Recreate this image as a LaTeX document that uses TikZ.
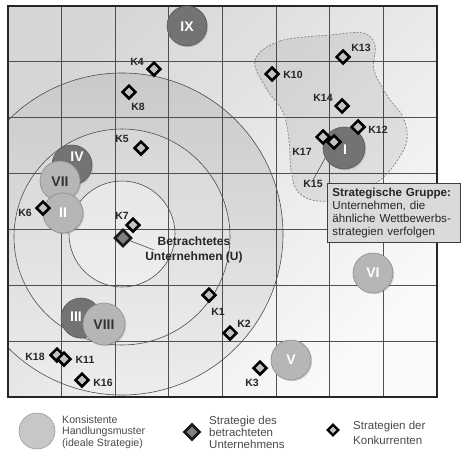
\documentclass[tikz,border=0pt]{standalone}
\usepackage{fontspec}
\setmainfont{Liberation Sans}
\usetikzlibrary{shapes.geometric,shadows}
\definecolor{darkc}{HTML}{737373}
\definecolor{lightc}{HTML}{B6B6B6}
\definecolor{gridc}{HTML}{505050}
\definecolor{kfill}{HTML}{C2C2C2}
\definecolor{ufill}{HTML}{808080}
\definecolor{legtext}{HTML}{4A4A4A}
\definecolor{boxfill}{HTML}{DADADA}
\begin{document}
\begin{tikzpicture}[x=1pt,y=-1pt,
  strat/.style={circle, minimum size=40pt, inner sep=0pt, line width=0.6pt,
    drop shadow={shadow xshift=1.2pt, shadow yshift=-1.2pt, opacity=0.3}},
  darkcirc/.style={strat, fill=darkc, draw=black!65},
  lightcirc/.style={strat, fill=lightc, draw=black!45},
  numw/.style={font=\fontsize{14}{14}\selectfont\bfseries, text=white, inner sep=0pt},
  numd/.style={numw, text=black!80},
  kd/.style={diamond, aspect=1, draw=black, line width=2.5pt, fill=kfill,
    minimum size=14pt, inner sep=0pt},
  ud/.style={diamond, aspect=1, draw=black!90, line width=2.6pt, fill=ufill,
    minimum size=17pt, inner sep=0pt},
  klab/.style={font=\fontsize{10.5}{12}\selectfont\bfseries, text=black!85, inner sep=0pt},
  ulab/.style={font=\fontsize{12}{15}\selectfont\bfseries, text=black!85, align=center, inner sep=0pt},
  gbox/.style={fill=boxfill, draw=black!75, line width=0.9pt, align=left,
    font=\fontsize{11.6}{13}\selectfont, text=black!85, inner xsep=5pt, inner ysep=2pt,
    minimum width=133pt, minimum height=59pt, text width=123pt},
  legt/.style={font=\fontsize{10.6}{11.7}\selectfont, text=legtext, align=left, inner sep=0pt},
  ringline/.style={draw=black!70, line width=0.6pt},
  gridline/.style={draw=gridc, line width=0.8pt},
  conn/.style={draw=black!70, line width=0.6pt}
]
\useasboundingbox (0,0) rectangle (461,450);
\fill[white] (0,0) rectangle (461,450);
% background of the matrix
\shade[top color=black!16, bottom color=black!2, shading angle=45] (8,6) rectangle (437,397);
% concentric circles
\begin{scope}
  \clip (8,6) rectangle (437,397);
  \shade[top color=black!21, bottom color=black!7] (122,234) circle[radius=161];
  \fill[white, opacity=0.15] (122,237) circle[radius=108];
  \fill[white, opacity=0.35] (122,234) circle[radius=53];
  \draw[ringline] (122,234) circle[radius=161];
  \draw[ringline] (122,237) circle[radius=108];
  \draw[ringline] (122,234) circle[radius=53];
\end{scope}
% grid
\foreach \i in {1,...,7} \draw[gridline] ({8+53.625*\i},6) -- ({8+53.625*\i},397);
\foreach \j in {1,...,6} \draw[gridline] (8,{6+55.857*\j}) -- (437,{6+55.857*\j});
% strategic group region
\draw[dash pattern=on 2pt off 1.5pt, draw=black!45, line width=0.8pt, fill=black, fill opacity=0.07]
  plot[smooth cycle, tension=0.6] coordinates {(255,60) (280,41) (330,35) (363,33) (375,45) (374,70) (388,97) (403,117) (407,140) (397,161) (380,180) (350,197) (318,201) (298,192) (291,170) (289,140) (283,112) (266,88)};
% frame
\draw[line width=1.5pt, black!85] (8,6) rectangle (437,397);
% connector K15 (behind circle I)
\node[klab] (lK15) at (313,184) {K15};
\coordinate (K15c) at (334,142);
\draw[conn] (lK15.north) -- (K15c);
% strategy circles
\node[darkcirc] (IX) at (187,26) {};
\node[darkcirc] (IV) at (72,165) {};
\node[lightcirc] (VII) at (60,181) {};
\node[lightcirc] (II) at (63,213) {};
\node[darkcirc] (III) at (81,318) {};
\node[lightcirc, minimum size=42pt] (VIII) at (104,324) {};
\node[darkcirc, minimum size=42pt] (I) at (344,148) {};
\node[lightcirc] (VI) at (373,273) {};
\node[lightcirc] (V) at (291,360) {};
\node[numw] (tIX) at (187,27) {IX};
\node[numw] (tIV) at (77,157) {IV};
\node[numd] (tVII) at (60,182) {VII};
\node[numw] (tII) at (63,213) {II};
\node[numw] (tIII) at (76,317) {III};
\node[numd] (tVIII) at (104,325) {VIII};
\node[numw] (tI) at (345,150) {I};
\node[numw] (tVI) at (373,273) {VI};
\node[numw] (tV) at (291,360) {V};
% competitors
\node[kd] (K4) at (154,69) {};
\node[kd] (K8) at (129,92) {};
\node[kd] (K5) at (141,148) {};
\node[kd] (K10) at (272,74) {};
\node[kd] (K13) at (343,57) {};
\node[kd] (K14) at (342,106) {};
\node[kd] (K12) at (358,127) {};
\node[kd] (K17) at (323,137) {};
\node[kd] (K15) at (K15c) {};
\node[kd] (K6) at (43,208) {};
\node[kd] (K7) at (133,225) {};
\node[kd] (K1) at (209,295) {};
\node[kd] (K2) at (230,333) {};
\node[kd] (K3) at (260,368) {};
\node[kd] (K18) at (57,355) {};
\node[kd] (K11) at (64,359) {};
\node[kd] (K16) at (82,380) {};
% company under consideration
\coordinate (Uend) at (154,250);
\draw[conn] (123,238) -- (Uend);
\node[ud] (U) at (123,238) {};
\node[ulab] (Ulab) at (194,250) {Betrachtetes\\Unternehmen (U)};
% labels
\node[klab] (lK4) at (137,62) {K4};
\node[klab] (lK8) at (138,107) {K8};
\node[klab] (lK5) at (122,139) {K5};
\node[klab] (lK10) at (293,75) {K10};
\node[klab] (lK13) at (361,48) {K13};
\node[klab] (lK14) at (323,98) {K14};
\node[klab] (lK12) at (378,130) {K12};
\node[klab] (lK17) at (302,152) {K17};
\node[klab] (lK6) at (25,213) {K6};
\node[klab] (lK7) at (122,216) {K7};
\node[klab] (lK1) at (218,312) {K1};
\node[klab] (lK2) at (244,324) {K2};
\node[klab] (lK3) at (252,383) {K3};
\node[klab] (lK18) at (35,357) {K18};
\node[klab] (lK11) at (85,360) {K11};
\node[klab] (lK16) at (103,383) {K16};
% strategic group box
\node[gbox, anchor=north west] (grp) at (327,183) {\textbf{Strategische Gruppe:}\\Unternehmen, die\\ähnliche Wettbewerbs-\\strategien verfolgen};
% legend
\node[circle, minimum size=36pt, inner sep=0pt, fill=black!22, draw=black!40, line width=0.6pt] (legC) at (37,431) {};
\node[legt, anchor=west] (legT1) at (62,432) {Konsistente\\Handlungsmuster\\(ideale Strategie)};
\node[ud, minimum size=16pt] (legU) at (192,432) {};
\node[legt, anchor=west, font=\fontsize{11.5}{12}\selectfont] (legT2) at (209,432) {Strategie des\\betrachteten\\Unternehmens};
\node[kd, minimum size=11.5pt, line width=2.4pt] (legK) at (333,430) {};
\node[legt, anchor=west, font=\fontsize{11.5}{14.5}\selectfont] (legT3) at (353,433) {Strategien der\\Konkurrenten};
\end{tikzpicture}
\end{document}
